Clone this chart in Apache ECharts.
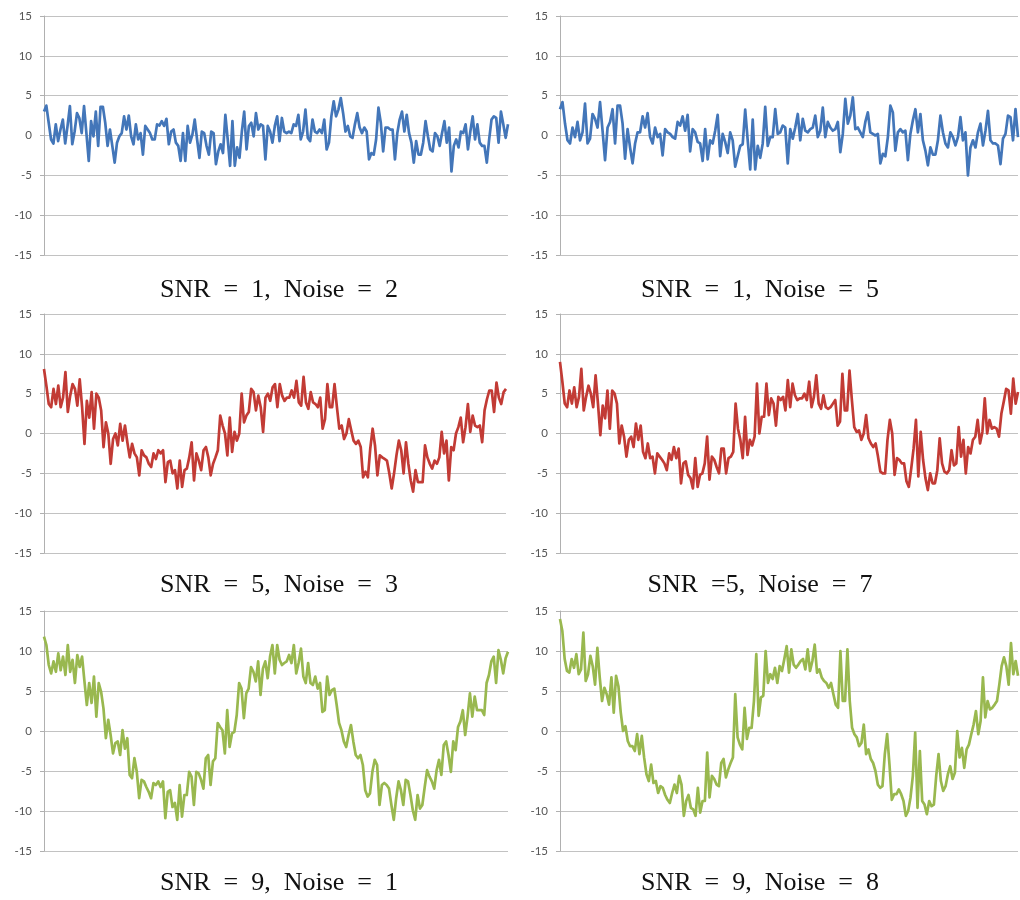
<!DOCTYPE html>
<html><head><meta charset="utf-8">
<script src="https://cdn.jsdelivr.net/npm/echarts@6/dist/echarts.min.js"></script>
<style>html,body{margin:0;padding:0;background:#fff}#c{width:1020px;height:900px}</style>
</head><body><div id="c"></div>
<script>
// Tick values of every y axis
const yMin = -15, yMax = 15, yStep = 5;

// Panel captions (row by row, left then right)
const captions = [
  'SNR = 1, Noise = 2', 'SNR = 1, Noise = 5',
  'SNR = 5, Noise = 3', 'SNR =5, Noise = 7',
  'SNR = 9, Noise = 1', 'SNR = 9, Noise = 8'
];

// Series values
const snr1Noise2 = [3.0,3.75,1.6,-0.5,-1,1.4,-0.7,0.75,2,-1,1.2,3.7,-1.1,0.5,2.8,2.2,0.3,3.7,0.3,-3.2,1.8,-0.1,3,-1.3,3.6,3.6,1.6,-1.3,0.75,-1.3,-3.4,-0.9,-0.1,0.3,2.4,0.75,2.5,-0.1,-1.1,1.4,-0.5,0.3,-2.4,1.2,0.75,0.3,-0.5,-0.5,1.4,1.25,1.8,1.2,2.1,-1.1,0.5,0.75,-0.9,-1.3,-3.2,0.3,-3.2,1.2,-0.9,0.1,2,-0.5,-2.8,0.5,0.3,-1.3,-2.4,0.5,0.3,-3.6,-2,-1.1,-2.2,2.6,-0.5,-3.8,1.8,-3.8,-1.5,-2.8,0.5,3,-1.75,1.2,
  1.6,-0.1,2.8,0.75,1.4,1.2,-3,1.2,0.5,-0.9,1.2,2.4,-0.7,2.2,0.5,0.3,0.5,0.3,1.4,1.2,2.6,-0.5,0.5,3.25,-0.3,-0.7,2,0.5,0.3,0.75,0.3,2,-1.75,-0.9,2.4,4.3,2.4,3.25,4.7,2.8,0.5,1.2,-0.1,-0.3,1.4,2.8,1,0.3,1,0.5,-3,-2.2,-2.4,-0.5,3.5,1.6,-2,1,1,0.75,0.75,-3,0.3,2,3,0.5,2.6,0.3,-0.9,-3.4,-0.7,-2.4,-2.4,-0.9,1.8,-0.1,-1.75,-2,0.3,-0.1,-1.3,0.3,1.8,-0.9,1,-4.5,-1.3,-0.5,-1.5,0.5,0.3,1.4,-1.75,0.5,2.4,-0.5,1.4,-0.9,-1.3,-1.3,-3.4,-0.5,2,2.4,2.2,-0.9,3,1.4,-0.3,1.4];

const snr1Noise5 = [3.3,4.2,1.5,-0.6,-1,1,-0.2,1.7,-0.6,0.4,4,-1,-0.4,2.7,2.1,1,4.2,0.6,-3.1,1,1.7,3.3,-1,3.75,3.75,1.5,-2.9,0.8,-1.5,-3.5,-1,0.4,0.4,2.4,1,2.8,-0.2,-1,1,-0.2,0.2,-2.5,0.8,0.4,0.2,-0.2,-0.4,1.7,1.25,2.4,0.6,2.6,-2,0.8,0.4,-0.8,-1,-3.2,0.8,-3,-0.6,-1,0.6,2.6,-2.6,0.2,-0.8,-2.2,0.4,-0.6,-3.9,-2.6,-1.3,-1.1,3.25,-0.6,-4.25,2,-4.25,-1.3,-2.8,-1,3.6,-1.3,-0.2,-0.2,3.3,
  0.2,0.4,1.25,1,-3.5,0.8,-0.4,1,2.7,-0.6,2.1,0.6,0.4,0.8,1,2.5,-0.2,0.6,3.5,-0.2,1.7,1,0.6,0.8,1.7,-2.1,0.2,4.6,1.5,2.5,4.8,0.8,1,0.4,-0.2,1.7,2.9,0.4,0.2,0,0.2,-3.5,-2.3,-2.6,-0.2,3.75,2.9,-1.9,0.4,0.8,0.4,0.6,-3.1,0.2,1.9,3.3,0.4,2.7,-0.6,-1.9,-3.75,-1.5,-2.4,-2.4,-0.6,2.5,0.4,-1,-1.5,0.4,-0.2,-1.25,-0.2,2.3,-0.6,0.4,-5,-1.5,-0.6,-1.5,0.4,1.5,-1.25,0.6,3.1,-0.6,-1,-1,-1.25,-3.6,-0.4,0.2,2.5,2.3,-0.6,3.3,-0.2];

const snr5Noise3 = [8.1,6,3.7,3.3,5.6,3.7,6,3.3,4.5,7.7,2.7,4.75,6.2,5.6,3.5,6.8,3.3,-1.3,4.1,2,5.2,0.6,5,4.5,2.9,-1.7,1.4,0,-3.8,-0.7,0,-1.5,1.2,-0.9,1,-1.1,-3,-1.3,-2.5,-3,-5.25,-2.1,-2.75,-3,-3.8,-4.2,-2.5,-3.2,-2.1,-2.5,-2.1,-6.1,-3.6,-3.4,-5,-4.6,-6.9,-3.4,-6.7,-4.6,-4.4,-3,-1.1,-5.9,-2.5,-3.4,-4.6,-2.1,-1.7,-3,-5.25,-3.8,-3,-2.1,2.25,1,0,-2.75,2,-2.3,0.2,-0.9,0,5,1.4,2.25,2.7,5.6,
  5.2,2.9,4.75,3.3,0.2,4.5,5,4.1,5.8,6.2,3.3,6.2,4.75,4.1,4.5,4.5,5.4,4.5,6.6,3.9,3.5,7.1,3.9,3.1,5.2,3.9,3.7,3.3,4.5,0.6,1.8,6.2,3.3,3.3,6.2,3.3,0.6,1,-0.7,0,1.8,0.4,-0.9,-1.3,-0.9,-1.7,-5.5,-4.8,-5.5,-1.9,0.6,-1.5,-5.25,-2.75,-3,-3.2,-3.4,-5,-6.9,-5,-2.75,-0.9,-2.1,-5,-1.1,-3.8,-5.9,-7.3,-4.6,-6.1,-6.1,-6.1,-1.5,-3,-3.8,-4.4,-3.4,-3.8,-3,0.2,-2.5,-0.9,-5.9,-1.7,-2.1,0,0.8,2,-1.1,0.8,3.7,0.2,2.25,1,0.8,1,-1.1,2.9,4.3,5.4,5.4,2.7,6.4,4.5,3.7,5.2,5.6];

const snr5Noise7 = [9,6.5,3.75,3.3,5.4,3.75,5.8,3.3,4.6,8.1,2.9,4.6,6,5,3.3,7.3,3.75,-0.2,3.5,1.9,5.4,0.6,5.4,5,3.75,-1.25,1,-0.4,-2.9,-0.8,-0.4,-1.7,1.25,-0.8,1,-2.3,-3.1,-1.25,-3.1,-2.9,-5,-2.5,-2.9,-3.3,-3.75,-4.6,-2.5,-3.3,-1.7,-3.1,-1.9,-6.25,-3.75,-3.5,-5.2,-5.6,-6.9,-3.1,-6.7,-5.2,-5,-3.75,-0.4,-5.8,-2.9,-3.3,-4.2,-5,-1.9,-1.9,-5,-3.1,-2.9,-2.3,3.75,0.6,-0.8,-3.1,2.1,-2.7,-0.8,-1.5,-0.4,6.25,0,2.1,2.1,6.25,
  2.3,4.4,3.75,1,4.6,4.2,4.6,2.9,6.7,3.3,6.25,4.8,4.2,4.4,4.4,5,4.2,6.5,3.3,4.6,7.3,3.75,3.1,4.8,3.3,3.1,3.3,3.75,4.2,1,1.5,7.5,2.9,2.9,7.9,4.2,0.8,0.2,0.4,-0.8,0,2.3,-0.6,-1.25,-1.7,-1.25,-2.9,-4.8,-5,-5,-0.8,1.7,0,-5.2,-3.1,-3.3,-3.75,-3.75,-6,-6.7,-4.4,-1.9,1.7,-5.4,0.2,-3.3,-5.6,-7.1,-5,-6.25,-6.25,-4.6,-0.6,-3.75,-4.8,-5,-4.6,-2.1,-4,-3.75,0.8,-2.9,-0.8,-5,-1.7,-2.5,-0.8,-0.4,1.7,-1.25,0.2,4.4,0,1.7,0.6,0.8,0.6,-0.4,2.5,4,5.6,5.4,2.5,6.9,3.75,5.2];

const snr9Noise1 = [11.8,10.75,8.25,7.2,8.7,7.4,9.7,7.6,9.3,7,10.75,7.4,8.9,6,9.5,8,9.3,6.2,3.25,6,3.5,6.8,1.8,6,4.9,2.8,-0.9,1.4,-0.5,-2.8,-1.5,-1.3,-3,0.1,-2.2,-0.9,-5.5,-5.9,-3.4,-5.1,-8.4,-6.1,-6.3,-7,-7.6,-8.4,-6.5,-6.75,-6.3,-7,-6.3,-10.9,-7.6,-7.4,-9.5,-9,-11.1,-6.75,-10.7,-8,-8,-5.1,-5.7,-9.25,-5.1,-5.3,-6.1,-7.2,-3.4,-3,-6.75,-3.8,-3.4,1,0.5,0.1,-2.8,2.6,-2,-0.3,-0.1,2,6,5.3,1.6,4.7,5.3,8,
  7.4,6.2,8.7,4.5,7.8,8.7,6.6,9.3,10.75,7.2,10.75,8.9,8.25,8.5,8.7,9.5,8.5,10.75,7.2,8.5,10.3,6.8,6,8.5,6,5.75,6.8,5.3,6,2.4,2.6,6.8,4.5,5.1,5.3,3.25,1,0.1,-1.3,-2,-0.5,0.75,-1.3,-3,-3.4,-3,-4.25,-7.4,-8.2,-7.8,-5.1,-3.6,-4.25,-9.25,-6.75,-6.5,-6.75,-7.2,-9.25,-11.1,-8.4,-6.3,-7.4,-9.25,-6.1,-6.3,-8,-9.9,-11.1,-8,-9.7,-9.25,-7,-4.9,-5.7,-6.3,-7.2,-4.9,-3.6,-5.5,-1.75,-1.3,-3,-5.1,-1.3,-2.4,0.5,1.2,2.6,-0.5,1.8,4.7,1.8,4.3,2.6,2.6,2.6,2,6,7,8.7,9.3,6,10.1,8.9,7.2,9.1,9.9];

const snr9Noise8 = [14,12.5,9,7.5,7.3,9,7.9,9.6,7.1,7.7,12.3,6.25,7.1,9.4,8.1,5.8,10.4,6.7,3.75,5.4,4.6,3.3,6.7,2.3,6.9,5.6,2.3,0,0.6,-1.25,-1.9,-1.9,-2.5,-0.4,-2.9,-0.6,-3.3,-5.4,-6.25,-4.2,-6.5,-6.25,-7.75,-6.9,-7.1,-8,-8.6,-9,-7.75,-6.7,-7.75,-5.6,-6.7,-10.6,-8.75,-8,-9.6,-9.8,-10.6,-7.1,-10.2,-8.75,-8.75,-2.7,-8.3,-5.6,-6,-6.7,-6.9,-4,-3.5,-5.8,-4.8,-4,-3.3,4.6,-0.8,-1.7,-2.3,2.9,-1,0.4,0.4,3.75,9.6,1.9,4.2,4.4,10,6,
  7.1,6.5,7.9,6,8.1,7.5,9,10.6,7.3,10.2,8.3,7.9,8.3,8.75,9,7.7,10.2,7.5,8.75,10.8,7.3,7.7,6.7,6.25,6,5.4,6,4.6,3.3,2.9,10,3.75,3.75,10.2,3.75,0.4,-0.4,-0.8,-1.9,-1.5,0.8,-2.9,-2.3,-3.5,-4,-5,-6.7,-7.1,-6.9,-2.9,-0.4,-4.2,-8.6,-7.9,-7.9,-7.3,-7.9,-8.75,-10.6,-10,-8.3,-5.6,-0.2,-9.6,-2.5,-8.75,-9.2,-10.4,-8.75,-9.4,-9.2,-5.6,-2.9,-6.25,-7.5,-6.9,-5.4,-4.4,-6,-5.2,0,-3.3,-2.1,-4.6,-2.3,-1.7,-0.4,0.8,2.5,-0.4,1.25,6.7,1.7,3.75,2.7,2.9,3.3,3.75,5.8,8.1,9.2,8.1,5.8,11,7.1,8.75,6.9];

const panelSeries = [snr1Noise2, snr1Noise5, snr5Noise3, snr5Noise7, snr9Noise1, snr9Noise8];

// Layout / style (kept apart from data)
const colors = ['#4376b9', '#4376b9', '#c23b35', '#c23b35', '#99b84f', '#99b84f'];
const grids = [
  {left: 44, top: 16, width: 464, height: 239},
  {left: 560, top: 16, width: 458, height: 239},
  {left: 44, top: 314, width: 462, height: 239},
  {left: 560, top: 314, width: 458, height: 239},
  {left: 44, top: 611, width: 464, height: 240},
  {left: 560, top: 611, width: 458, height: 240}
];
const captionPos = [[279, 290], [760, 290], [279, 585], [760, 585], [279, 883], [760, 883]];

const option = {
  animation: false,
  backgroundColor: '#ffffff',
  grid: grids.map(g => Object.assign({containLabel: false}, g)),
  xAxis: panelSeries.map((s, i) => ({
    type: 'category', gridIndex: i, boundaryGap: false,
    data: s.map((_, k) => k + 1),
    axisLine: {show: false}, axisTick: {show: false}, axisLabel: {show: false}, splitLine: {show: false}
  })),
  yAxis: panelSeries.map((s, i) => ({
    type: 'value', gridIndex: i, min: yMin, max: yMax, interval: yStep,
    axisLine: {show: true, lineStyle: {color: '#b0b0b0', width: 1}},
    axisTick: {show: true, length: 4, lineStyle: {color: '#b0b0b0'}},
    axisLabel: {color: '#555555', fontSize: 11.5, fontFamily: 'Lato, "Liberation Sans", sans-serif', margin: 12},
    splitLine: {show: true, lineStyle: {color: '#c2c2c2', width: 1}}
  })),
  series: panelSeries.map((s, i) => ({
    type: 'line', xAxisIndex: i, yAxisIndex: i, data: s,
    symbol: 'none', showSymbol: false, smooth: false,
    lineStyle: {color: colors[i], width: 2.7, join: 'round'},
    itemStyle: {color: colors[i]}
  })),
  graphic: captions.map((t, i) => ({
    type: 'text', x: captionPos[i][0], y: captionPos[i][1],
    style: {
      text: t.replace(/ /g, '\u2002'),
      font: '26px "Liberation Serif", "DejaVu Serif", serif',
      fill: '#111111', align: 'center', verticalAlign: 'middle'
    }
  }))
};

const chart = echarts.init(document.getElementById('c'), null, {renderer: 'canvas'});
chart.setOption(option);
</script>
</body></html>
